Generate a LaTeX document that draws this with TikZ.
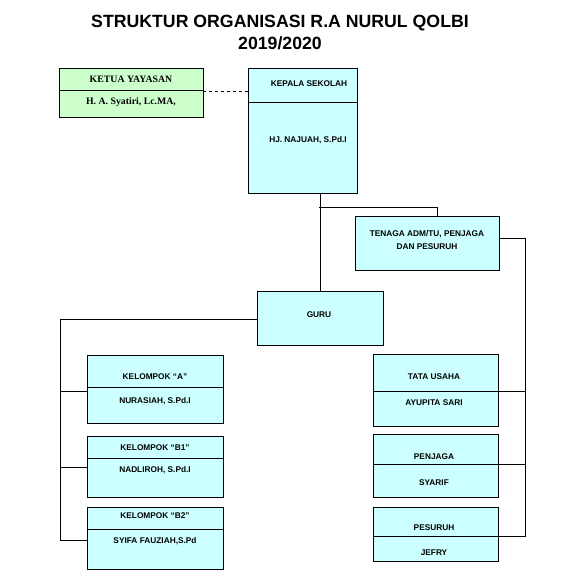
\documentclass[tikz,border=0pt]{standalone}
\usepackage{fontspec}
\setmainfont{Liberation Sans}
\newfontfamily\timesfont{Liberation Serif}
\definecolor{boxcyan}{HTML}{CCFFFF}
\definecolor{boxgreen}{HTML}{CCFFCC}
\tikzset{
  unit/.style={draw, thick, fill=boxcyan, inner sep=0pt},
  lbl/.style={font=\fontsize{8.3}{10}\selectfont\bfseries, align=center, inner sep=0pt},
  link/.style={thick}
}
\begin{document}
\begin{tikzpicture}[x=1pt, y=-1pt]
    \useasboundingbox (0,0) rectangle (560,580);
    \node[font=\fontsize{17.7}{22}\selectfont\bfseries, align=center] (title) at (280,32) {STRUKTUR ORGANISASI R.A NURUL QOLBI\\2019/2020};

    % boxes
    \node[unit, fill=boxgreen, minimum width=144pt, minimum height=49pt] (ketua) at (131,92.5) {};
    \node[unit, minimum width=109pt, minimum height=125pt] (kepala) at (302.5,130.5) {};
    \node[unit, minimum width=144pt, minimum height=54pt] (tenaga) at (427,243) {};
    \node[unit, minimum width=126pt, minimum height=54pt] (guru) at (320,318) {};
    \node[unit, minimum width=136pt, minimum height=68pt] (kelA) at (155,389) {};
    \node[unit, minimum width=136pt, minimum height=61pt] (kelBa) at (155,466.5) {};
    \node[unit, minimum width=136pt, minimum height=62pt] (kelBb) at (155,538) {};
    \node[unit, minimum width=125pt, minimum height=72pt] (tu) at (435.5,390) {};
    \node[unit, minimum width=125pt, minimum height=63pt] (penjaga) at (435.5,465.5) {};
    \node[unit, minimum width=125pt, minimum height=54pt] (pesuruh) at (435.5,534) {};

    \foreach \n/\y in {ketua/90, kepala/102, kelA/387, kelBa/458, kelBb/529, tu/391, penjaga/464, pesuruh/536}
        \draw[link] (\n.west |- 0,\y) -- (\n.east |- 0,\y);

    % texts
    \node[lbl, font=\timesfont\fontsize{9.8}{12}\selectfont\bfseries] (ketuaA) at (131,79) {KETUA YAYASAN};
    \node[lbl, font=\timesfont\fontsize{9.8}{12}\selectfont\bfseries] (ketuaB) at (131,102) {H. A. Syatiri, Lc.MA,};
    \node[lbl] (kepalaA) at (309,84) {KEPALA SEKOLAH};
    \node[lbl] (kepalaB) at (308,140) {HJ. NAJUAH, S.Pd.I};
    \node[lbl, text depth=0pt] (tenagaA) at (427,240) {TENAGA ADM/TU, PENJAGA\\[3pt]DAN PESURUH};
    \node[lbl] (guruA) at (319,315) {GURU};
    \node[lbl] (kelAa) at (155,377) {KELOMPOK “A”};
    \node[lbl] (kelAb) at (155,401) {NURASIAH, S.Pd.I};
    \node[lbl] (kelBaa) at (155,448) {KELOMPOK “B1”};
    \node[lbl] (kelBab) at (155,470) {NADLIROH, S.Pd.I};
    \node[lbl] (kelBba) at (155,516) {KELOMPOK “B2”};
    \node[lbl] (kelBbb) at (155,541) {SYIFA FAUZIAH,S.Pd};
    \node[lbl] (tuA) at (434,377) {TATA USAHA};
    \node[lbl] (tuB) at (434,403) {AYUPITA SARI};
    \node[lbl] (penjagaA) at (434,457) {PENJAGA};
    \node[lbl] (penjagaB) at (434,483) {SYARIF};
    \node[lbl] (pesuruhA) at (434,528) {PESURUH};
    \node[lbl] (pesuruhB) at (434,553) {JEFRY};

    % connectors
    \draw[link, dashed] (ketua.east |- 0,91) -- (kepala.west |- 0,91);
    \draw[link] (guru.north |- kepala.south) -- (guru.north);
    \coordinate (split) at (319,207);
    \draw[link] (split) -| ([xshift=10pt]tenaga.north);
    \draw[link] ([yshift=5pt]tenaga.east) -- ++(26,0) coordinate (rbus) |- (pesuruh.east |- 0,536);
    \draw[link] (tu.east |- 0,391) -- (rbus |- 0,391);
    \draw[link] (penjaga.east |- 0,464) -- (rbus |- 0,464);
    \draw[link] ([yshift=-1pt]guru.west) -- ++(-196,0) coordinate (lbus) |- (kelBb.west |- 0,540);
    \draw[link] (kelA.west |- 0,391) -- (lbus |- 0,391);
    \draw[link] (kelBa.west |- 0,467) -- (lbus |- 0,467);
\end{tikzpicture}
\end{document}
